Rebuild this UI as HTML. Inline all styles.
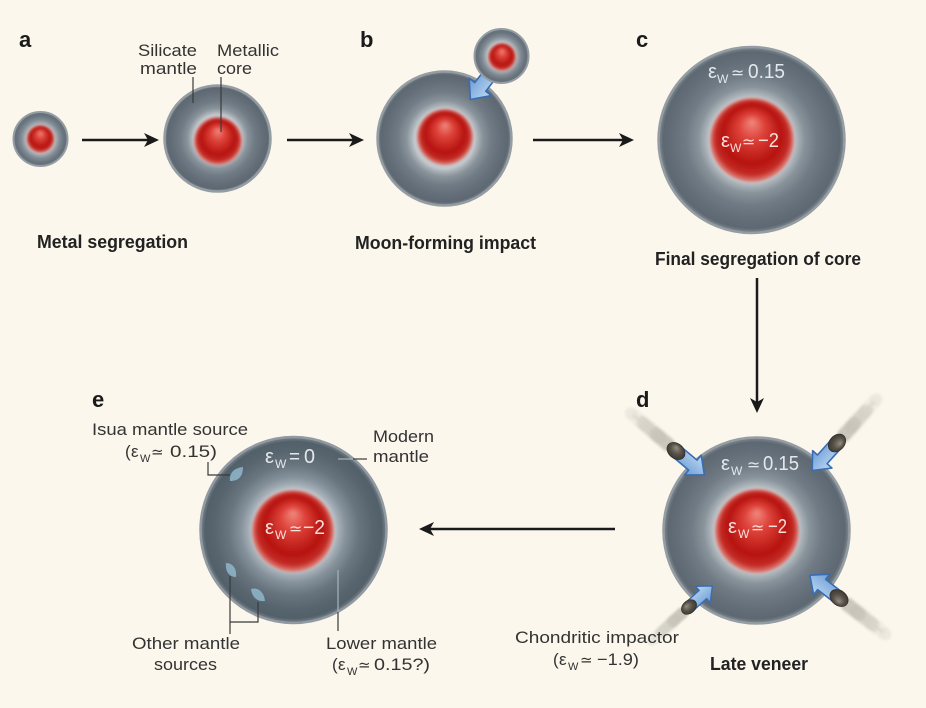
<!DOCTYPE html>
<html><head><meta charset="utf-8"><style>
html,body{margin:0;padding:0;background:#fbf7ec;}
svg{display:block;}
text{font-family:"Liberation Sans",Arial,sans-serif;}
.lb{fill:#333;}
.bd{font-weight:bold;fill:#222;}
.lt{font-weight:900;fill:#1a1a1a;}
.sym{font-family:"DejaVu Sans",sans-serif;}
.wm{fill:#e4e8eb;}
.wc{fill:#f8e0dc;}
</style></head><body>
<svg width="926" height="708" viewBox="0 0 926 708" xmlns="http://www.w3.org/2000/svg">
<defs>
<radialGradient id="mant" cx=".5" cy=".5" r=".5">
<stop offset="0" stop-color="#c9ced1"/>
<stop offset=".45" stop-color="#c3c8cc"/>
<stop offset=".5" stop-color="#a8b0b6"/>
<stop offset=".57" stop-color="#89939b"/>
<stop offset=".7" stop-color="#707b85"/>
<stop offset=".85" stop-color="#636e78"/>
<stop offset=".95" stop-color="#5d6872"/>
<stop offset=".985" stop-color="#78828a"/>
<stop offset="1" stop-color="#969da3"/>
</radialGradient>
<radialGradient id="mantS" cx=".5" cy=".5" r=".5">
<stop offset="0" stop-color="#c9ced1"/>
<stop offset=".52" stop-color="#c0c6ca"/>
<stop offset=".6" stop-color="#a0a9b0"/>
<stop offset=".72" stop-color="#7f8a93"/>
<stop offset=".88" stop-color="#67727c"/>
<stop offset=".96" stop-color="#66717b"/>
<stop offset="1" stop-color="#8e969c"/>
</radialGradient>
<radialGradient id="mantE" cx=".5" cy=".5" r=".5">
<stop offset="0" stop-color="#c6ccd0"/>
<stop offset=".44" stop-color="#bfc5ca"/>
<stop offset=".49" stop-color="#a2acb4"/>
<stop offset=".57" stop-color="#84909a"/>
<stop offset=".7" stop-color="#68757f"/>
<stop offset=".85" stop-color="#58656f"/>
<stop offset=".95" stop-color="#526069"/>
<stop offset=".985" stop-color="#707a84"/>
<stop offset="1" stop-color="#8e969c"/>
</radialGradient>
<radialGradient id="core" cx=".5" cy=".5" r=".5" fx=".5" fy=".28">
<stop offset="0" stop-color="#f0887e"/>
<stop offset=".3" stop-color="#de433a"/>
<stop offset=".7" stop-color="#b6130f"/>
<stop offset=".88" stop-color="#c42c26"/>
<stop offset="1" stop-color="#e08a82"/>
</radialGradient>
<filter id="soft" x="-20%" y="-20%" width="140%" height="140%"><feGaussianBlur stdDeviation="1.4"/></filter>
<filter id="blur2" x="-50%" y="-50%" width="200%" height="200%"><feGaussianBlur stdDeviation="1.4"/></filter>
<linearGradient id="blue" x1="0" y1="0" x2="0" y2="1">
<stop offset="0" stop-color="#bcd8f3"/>
<stop offset="1" stop-color="#6c9dd5"/>
</linearGradient>
<linearGradient id="trail" x1="0" y1="0" x2="1" y2="0">
<stop offset="0" stop-color="#dcd9d0" stop-opacity="0"/>
<stop offset=".5" stop-color="#cfccc3" stop-opacity=".6"/>
<stop offset="1" stop-color="#b9b6ad" stop-opacity=".85"/>
</linearGradient>
<radialGradient id="rock" cx=".5" cy=".5" r=".6" fx=".4" fy=".3">
<stop offset="0" stop-color="#958e80"/>
<stop offset=".5" stop-color="#58524a"/>
<stop offset="1" stop-color="#34302b"/>
</radialGradient>
<g id="barrow">
<polygon points="0,-7 24,-7 24,-14 40,0 24,14 24,7 0,7" fill="url(#blue)" stroke="#3a6cb2" stroke-width="1.6" stroke-linejoin="round"/>
</g>
<g id="impactor">
<g filter="url(#blur2)">
<rect x="-64" y="-7" width="60" height="14" rx="7" fill="url(#trail)"/>
<g stroke="#c4c1b8" stroke-width="2" opacity=".5">
<line x1="-50" y1="-4" x2="-8" y2="-4"/>
<line x1="-56" y1="0" x2="-8" y2="0"/>
<line x1="-46" y1="4" x2="-8" y2="4"/>
</g>
<ellipse cx="-24" cy="0" rx="9" ry="7" fill="#c0bcb2" opacity=".5"/>
<ellipse cx="-42" cy="0" rx="8" ry="6.5" fill="#cbc7bd" opacity=".4"/>
<ellipse cx="-58" cy="0" rx="7" ry="6" fill="#d5d1c8" opacity=".35"/>
</g>
<polygon points="2,-6.5 22,-6.5 22,-13 37,0 22,13 22,6.5 2,6.5" fill="url(#blue)" stroke="#3a6cb2" stroke-width="1.6" stroke-linejoin="round"/>
<ellipse cx="0" cy="0" rx="10" ry="7.5" fill="url(#rock)" stroke="#2e2a26" stroke-width=".6"/>
</g>
</defs>

<!-- black arrows -->
<g stroke="#1a1a1a" stroke-width="2.5">
<line x1="82" y1="140" x2="148" y2="140"/>
<line x1="287" y1="140" x2="353" y2="140"/>
<line x1="533" y1="140" x2="623" y2="140"/>
<line x1="757" y1="278" x2="757" y2="402"/>
<line x1="615" y1="529" x2="430" y2="529"/>
</g>
<g fill="#1a1a1a">
<polygon points="159,140 144,133 148,140 144,147"/>
<polygon points="364,140 349,133 353,140 349,147"/>
<polygon points="634,140 619,133 623,140 619,147"/>
<polygon points="757,413 750,398 757,402 764,398"/>
<polygon points="419,529 434,522 430,529 434,536"/>
</g>

<!-- panel a -->
<text class="lt" x="19" y="47" font-size="22">a</text>
<circle cx="40.5" cy="139" r="27" fill="url(#mantS)" stroke="#959da3" stroke-width="2"/>
<circle cx="40.5" cy="139" r="14" fill="url(#core)" filter="url(#soft)"/>
<circle cx="217.5" cy="138.5" r="53" fill="url(#mant)" stroke="#959da3" stroke-width="2.5"/>
<circle cx="218" cy="141" r="24" fill="url(#core)" filter="url(#soft)"/>
<g stroke="#3a3a3a" stroke-width="1.2">
<line x1="193" y1="77" x2="193" y2="103"/>
<line x1="221" y1="77" x2="221" y2="132"/>
</g>
<text class="lb" font-size="17" x="138" y="56" textLength="59" lengthAdjust="spacingAndGlyphs">Silicate</text>
<text class="lb" font-size="17" x="140" y="74" textLength="57" lengthAdjust="spacingAndGlyphs">mantle</text>
<text class="lb" font-size="17" x="217" y="56" textLength="62" lengthAdjust="spacingAndGlyphs">Metallic</text>
<text class="lb" font-size="17" x="217" y="74" textLength="35" lengthAdjust="spacingAndGlyphs">core</text>
<text class="bd" font-size="18" x="37" y="248" textLength="151" lengthAdjust="spacingAndGlyphs">Metal segregation</text>

<!-- panel b -->
<text class="lt" x="360" y="47" font-size="22">b</text>
<circle cx="444.5" cy="138.5" r="67" fill="url(#mant)" stroke="#959da3" stroke-width="2.5"/>
<circle cx="445" cy="137" r="28" fill="url(#core)" filter="url(#soft)"/>
<g transform="translate(495,68) rotate(128)"><use href="#barrow"/></g>
<circle cx="501.5" cy="56" r="27" fill="url(#mantS)" stroke="#959da3" stroke-width="2"/>
<circle cx="502" cy="57" r="14" fill="url(#core)" filter="url(#soft)"/>
<text class="bd" font-size="18" x="355" y="249" textLength="181" lengthAdjust="spacingAndGlyphs">Moon-forming impact</text>

<!-- panel c -->
<text class="lt" x="636" y="47" font-size="22">c</text>
<circle cx="751.5" cy="140" r="93" fill="url(#mant)" stroke="#959da3" stroke-width="2.5"/>
<circle cx="752" cy="140" r="42" fill="url(#core)" filter="url(#soft)"/>
<text class="wm" x="708" y="78" font-size="20">ε</text>
<text class="wm" x="717" y="83" font-size="12">W</text>
<text class="wm sym" x="731" y="78" font-size="16">≃</text>
<text class="wm" x="748" y="78" font-size="20" textLength="37" lengthAdjust="spacingAndGlyphs">0.15</text>
<text class="wc" x="721" y="147" font-size="20">ε</text>
<text class="wc" x="730" y="152" font-size="12">W</text>
<text class="wc sym" x="742" y="147" font-size="16">≃</text>
<text class="wc" x="758" y="147" font-size="20" textLength="21" lengthAdjust="spacingAndGlyphs">−2</text>
<text class="bd" font-size="18" x="655" y="265" textLength="206" lengthAdjust="spacingAndGlyphs">Final segregation of core</text>

<!-- panel d -->
<text class="lt" x="636" y="407" font-size="22">d</text>
<circle cx="756.5" cy="530.5" r="93" fill="url(#mant)" stroke="#959da3" stroke-width="2.5"/>
<circle cx="757" cy="531" r="42" fill="url(#core)" filter="url(#soft)"/>
<g transform="translate(676,451) rotate(40)"><use href="#impactor"/></g>
<g transform="translate(837,443) rotate(132)"><use href="#impactor"/></g>
<g transform="translate(689,607) rotate(-42) scale(.85)"><use href="#impactor"/></g>
<g transform="translate(839,598) rotate(-142)"><use href="#impactor"/></g>
<text class="wm" x="721" y="470" font-size="20">ε</text>
<text class="wm" x="731" y="475" font-size="12">W</text>
<text class="wm sym" x="747" y="470" font-size="16">≃</text>
<text class="wm" x="763" y="470" font-size="20" textLength="36" lengthAdjust="spacingAndGlyphs">0.15</text>
<text class="wc" x="728" y="533" font-size="20">ε</text>
<text class="wc" x="738" y="538" font-size="12">W</text>
<text class="wc sym" x="751" y="533" font-size="16">≃</text>
<text class="wc" x="768" y="533" font-size="20" textLength="19" lengthAdjust="spacingAndGlyphs">−2</text>
<text class="lb" font-size="17" x="515" y="643" textLength="164" lengthAdjust="spacingAndGlyphs">Chondritic impactor</text>
<text class="lb" font-size="17" x="553" y="665">(</text>
<text class="lb" font-size="17" x="559" y="665">ε</text>
<text class="lb" font-size="11" x="568" y="670">W</text>
<text class="lb sym" font-size="15" x="580" y="665">≃</text>
<text class="lb" font-size="17" x="597" y="665" textLength="42" lengthAdjust="spacingAndGlyphs">−1.9)</text>
<text class="bd" font-size="18" x="710" y="670" textLength="98" lengthAdjust="spacingAndGlyphs">Late veneer</text>

<!-- panel e -->
<text class="lt" x="92" y="407" font-size="22">e</text>
<circle cx="293.5" cy="530" r="93" fill="url(#mantE)" stroke="#929aa1" stroke-width="2.5"/>
<circle cx="293" cy="531" r="41" fill="url(#core)" filter="url(#soft)"/>
<g fill="#8db2c6" opacity=".9">
<path d="M230,481 C229,473 234,468 243,467 C243,476 239,481 230,481 Z"/>
<path d="M226,563 C233,563 237,569 236,577 C229,577 225,571 226,563 Z"/>
<path d="M251,589 C258,587 264,592 265,601 C257,602 252,597 251,589 Z"/>
</g>
<g stroke="#3a3a3a" stroke-width="1.2" fill="none">
<polyline points="208,462 208,475 230,475"/>
<line x1="230" y1="576" x2="230" y2="634"/>
<polyline points="230,622 258,622 258,602"/>
<line x1="353" y1="459" x2="367" y2="459"/>
<line x1="338" y1="612" x2="338" y2="631"/>
</g>
<g stroke="#aab2b9" stroke-width="1.2">
<line x1="338" y1="459" x2="353" y2="459"/>
<line x1="338" y1="570" x2="338" y2="612"/>
</g>
<text class="wm" x="265" y="463" font-size="20">ε</text>
<text class="wm" x="275" y="468" font-size="12">W</text>
<text class="wm" x="289" y="463" font-size="20" textLength="11" lengthAdjust="spacingAndGlyphs">=</text>
<text class="wm" x="304" y="463" font-size="20" textLength="11" lengthAdjust="spacingAndGlyphs">0</text>
<text class="wc" x="265" y="534" font-size="20">ε</text>
<text class="wc" x="275" y="539" font-size="12">W</text>
<text class="wc sym" x="289" y="534" font-size="16">≃</text>
<text class="wc" x="303" y="534" font-size="20" textLength="22" lengthAdjust="spacingAndGlyphs">−2</text>

<text class="lb" font-size="17" x="92" y="435" textLength="156" lengthAdjust="spacingAndGlyphs">Isua mantle source</text>
<text class="lb" font-size="17" x="125" y="457">(</text>
<text class="lb" font-size="17" x="131" y="457">ε</text>
<text class="lb" font-size="11" x="140" y="462">W</text>
<text class="lb sym" font-size="15" x="151" y="457">≃</text>
<text class="lb" font-size="17" x="170" y="457" textLength="47" lengthAdjust="spacingAndGlyphs">0.15)</text>

<text class="lb" font-size="17" x="373" y="442" textLength="61" lengthAdjust="spacingAndGlyphs">Modern</text>
<text class="lb" font-size="17" x="373" y="462" textLength="56" lengthAdjust="spacingAndGlyphs">mantle</text>

<text class="lb" font-size="17" x="132" y="649" textLength="108" lengthAdjust="spacingAndGlyphs">Other mantle</text>
<text class="lb" font-size="17" x="154" y="670" textLength="63" lengthAdjust="spacingAndGlyphs">sources</text>

<text class="lb" font-size="17" x="326" y="649" textLength="111" lengthAdjust="spacingAndGlyphs">Lower mantle</text>
<text class="lb" font-size="17" x="332" y="670">(</text>
<text class="lb" font-size="17" x="338" y="670">ε</text>
<text class="lb" font-size="11" x="347" y="675">W</text>
<text class="lb sym" font-size="15" x="358" y="670">≃</text>
<text class="lb" font-size="17" x="374" y="670" textLength="56" lengthAdjust="spacingAndGlyphs">0.15?)</text>
</svg>
</body></html>
